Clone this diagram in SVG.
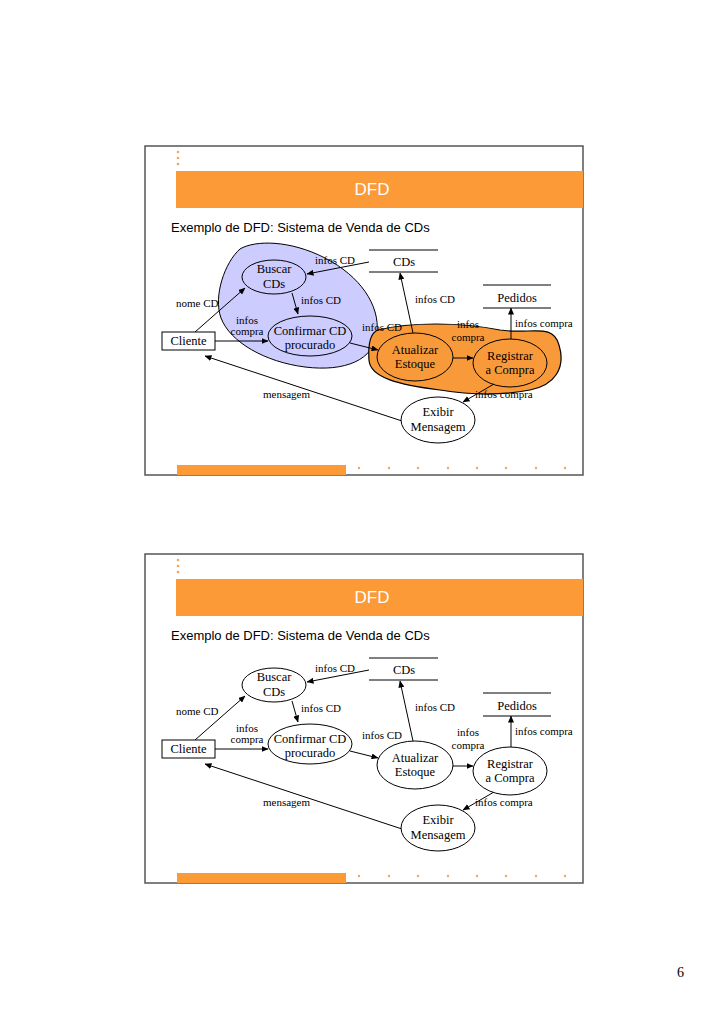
<svg xmlns="http://www.w3.org/2000/svg" width="728" height="1031" viewBox="0 0 728 1031">
<style>
.frame{fill:none;stroke:#555;stroke-width:1.5}
.bar{fill:#FB9A37}
.dot{fill:#F2A65A}
.title{font-family:"Liberation Sans",Arial,sans-serif;font-size:17px;fill:#fff;text-anchor:middle}
.sub{font-family:"Liberation Sans",Arial,sans-serif;font-size:13px;fill:#000}
.nt{font-family:"Liberation Serif","Times New Roman",serif;font-size:12.5px;fill:#000;text-anchor:middle}
.lb{font-family:"Liberation Serif","Times New Roman",serif;font-size:11px;fill:#000}
.lbm{font-family:"Liberation Serif","Times New Roman",serif;font-size:11px;fill:#000;text-anchor:middle}
.el{fill:none;stroke:#000;stroke-width:1}
.elw{fill:#fff;stroke:#000;stroke-width:1}
.st{stroke:#000;stroke-width:1}
.cn{stroke:#000;stroke-width:1;fill:none;marker-end:url(#ah)}
.blue{fill:#CCCCFF;stroke:#000;stroke-width:1}
.orange{fill:#F99A3A;stroke:#000;stroke-width:1.2}
.pg{font-family:"Liberation Serif","Times New Roman",serif;font-size:14px;fill:#000}
</style>
<defs>
<marker id="ah" markerWidth="7" markerHeight="6" refX="6.5" refY="3" orient="auto" markerUnits="userSpaceOnUse">
<path d="M0,0 L7,3 L0,6 Z" fill="#000"/>
</marker>
</defs>
<rect width="728" height="1031" fill="#fff"/>

<!-- Slide 1 -->
<g id="slide1">
<rect class="frame" x="145" y="146" width="438" height="329"/>
<rect class="bar" x="176" y="171" width="407" height="37"/>
<circle class="dot" cx="178" cy="152" r="1.3"/>
<circle class="dot" cx="178" cy="158" r="1.3"/>
<circle class="dot" cx="178" cy="164" r="1.3"/>
<text class="title" x="372" y="195">DFD</text>
<text class="sub" x="171" y="232">Exemplo de DFD: Sistema de Venda de CDs</text>
<rect class="bar" x="177" y="465" width="169" height="10"/>
<circle class="dot" cx="359" cy="468" r="1.2"/>
<circle class="dot" cx="389" cy="468" r="1.2"/>
<circle class="dot" cx="418" cy="468" r="1.2"/>
<circle class="dot" cx="448" cy="468" r="1.2"/>
<circle class="dot" cx="477" cy="468" r="1.2"/>
<circle class="dot" cx="506" cy="468" r="1.2"/>
<circle class="dot" cx="536" cy="468" r="1.2"/>
<circle class="dot" cx="565" cy="468" r="1.2"/>
</g>

<g id="s1-blobs">
<path class="blue" d="M240,249 C255,240 290,240 325,258 C360,276 380,305 377,333 C374,360 345,372 305,367 C265,362 230,342 221,318 C213,296 225,262 240,249 Z"/>
<path class="orange" d="M378,330 C410,322 460,322 500,330 C530,335 553,322 559,345 C566,368 555,385 530,390 C500,396 470,395 440,390 C400,385 370,378 369,360 C368,345 370,333 378,330 Z"/>
</g>

<g id="s1-connectors">
<line class="cn" x1="369" y1="262" x2="307" y2="274"/>
<line class="cn" x1="292" y1="293" x2="298" y2="314"/>
<line class="cn" x1="195" y1="332" x2="245" y2="288"/>
<line class="cn" x1="215" y1="341" x2="268" y2="341"/>
<line class="cn" x1="350" y1="343" x2="378" y2="350"/>
<line class="cn" x1="413" y1="333" x2="400" y2="273"/>
<line class="cn" x1="453" y1="358" x2="473" y2="358"/>
<line class="cn" x1="511" y1="339" x2="511" y2="308"/>
<line class="cn" x1="494" y1="384" x2="463" y2="402"/>
<line class="cn" x1="402" y1="421" x2="205" y2="356"/>
<text class="lb" x="315" y="264">infos CD</text>
<text class="lb" x="301" y="304">infos CD</text>
<text class="lb" x="176" y="307">nome CD</text>
<text class="lbm" x="247" y="324">infos</text>
<text class="lbm" x="247" y="335">compra</text>
<text class="lb" x="362" y="331">infos CD</text>
<text class="lb" x="415" y="303">infos CD</text>
<text class="lbm" x="468" y="328">infos</text>
<text class="lbm" x="468" y="341">compra</text>
<text class="lb" x="515" y="327">infos compra</text>
<text class="lb" x="475" y="398">infos compra</text>
<text class="lb" x="263" y="398">mensagem</text>
</g>

<g id="s1-buscar"><ellipse class="el" cx="274" cy="277" rx="32" ry="17"/><text class="nt" x="274" y="273">Buscar</text><text class="nt" x="274" y="288">CDs</text></g>
<g id="s1-confirmar"><ellipse class="el" cx="310" cy="336" rx="42" ry="20"/><text class="nt" x="310" y="335">Confirmar CD</text><text class="nt" x="310" y="349">procurado</text></g>
<g id="s1-cliente"><rect class="elw" x="162" y="332" width="53" height="18"/><text class="nt" x="188.5" y="345">Cliente</text></g>
<g id="s1-cds"><line class="st" x1="369" y1="250" x2="438" y2="250"/><line class="st" x1="369" y1="272" x2="438" y2="272"/><text class="nt" x="404" y="266">CDs</text></g>
<g id="s1-pedidos"><line class="st" x1="483" y1="285" x2="551" y2="285"/><line class="st" x1="483" y1="308" x2="551" y2="308"/><text class="nt" x="517" y="302">Pedidos</text></g>
<g id="s1-atualizar"><ellipse class="el" cx="415" cy="357" rx="38" ry="24"/><text class="nt" x="415" y="354">Atualizar</text><text class="nt" x="415" y="368">Estoque</text></g>
<g id="s1-registrar"><ellipse class="el" cx="510" cy="363" rx="37" ry="24"/><text class="nt" x="510" y="360">Registrar</text><text class="nt" x="510" y="374">a Compra</text></g>
<g id="s1-exibir"><ellipse class="elw" cx="438" cy="420" rx="37" ry="23"/><text class="nt" x="438" y="416">Exibir</text><text class="nt" x="438" y="431">Mensagem</text></g>

<!-- Slide 2 -->
<g id="slide2">
<rect class="frame" x="145" y="554" width="438" height="329"/>
<rect class="bar" x="176" y="579" width="407" height="37"/>
<circle class="dot" cx="178" cy="560" r="1.3"/>
<circle class="dot" cx="178" cy="566" r="1.3"/>
<circle class="dot" cx="178" cy="572" r="1.3"/>
<text class="title" x="372" y="603">DFD</text>
<text class="sub" x="171" y="640">Exemplo de DFD: Sistema de Venda de CDs</text>
<rect class="bar" x="177" y="873" width="169" height="10"/>
<circle class="dot" cx="359" cy="876" r="1.2"/>
<circle class="dot" cx="389" cy="876" r="1.2"/>
<circle class="dot" cx="418" cy="876" r="1.2"/>
<circle class="dot" cx="448" cy="876" r="1.2"/>
<circle class="dot" cx="477" cy="876" r="1.2"/>
<circle class="dot" cx="506" cy="876" r="1.2"/>
<circle class="dot" cx="536" cy="876" r="1.2"/>
<circle class="dot" cx="565" cy="876" r="1.2"/>
</g>

<g id="s2-connectors">
<line class="cn" x1="369" y1="670" x2="307" y2="682"/>
<line class="cn" x1="292" y1="701" x2="298" y2="722"/>
<line class="cn" x1="195" y1="740" x2="245" y2="696"/>
<line class="cn" x1="215" y1="749" x2="268" y2="749"/>
<line class="cn" x1="350" y1="751" x2="378" y2="758"/>
<line class="cn" x1="413" y1="741" x2="400" y2="681"/>
<line class="cn" x1="453" y1="766" x2="473" y2="766"/>
<line class="cn" x1="511" y1="747" x2="511" y2="716"/>
<line class="cn" x1="494" y1="792" x2="463" y2="810"/>
<line class="cn" x1="402" y1="829" x2="205" y2="764"/>
<text class="lb" x="315" y="672">infos CD</text>
<text class="lb" x="301" y="712">infos CD</text>
<text class="lb" x="176" y="715">nome CD</text>
<text class="lbm" x="247" y="732">infos</text>
<text class="lbm" x="247" y="743">compra</text>
<text class="lb" x="362" y="739">infos CD</text>
<text class="lb" x="415" y="711">infos CD</text>
<text class="lbm" x="468" y="736">infos</text>
<text class="lbm" x="468" y="749">compra</text>
<text class="lb" x="515" y="735">infos compra</text>
<text class="lb" x="475" y="806">infos compra</text>
<text class="lb" x="263" y="806">mensagem</text>
</g>

<g id="s2-buscar"><ellipse class="elw" cx="274" cy="685" rx="32" ry="17"/><text class="nt" x="274" y="681">Buscar</text><text class="nt" x="274" y="696">CDs</text></g>
<g id="s2-confirmar"><ellipse class="elw" cx="310" cy="744" rx="42" ry="20"/><text class="nt" x="310" y="743">Confirmar CD</text><text class="nt" x="310" y="757">procurado</text></g>
<g id="s2-cliente"><rect class="elw" x="162" y="740" width="53" height="18"/><text class="nt" x="188.5" y="753">Cliente</text></g>
<g id="s2-cds"><line class="st" x1="369" y1="658" x2="438" y2="658"/><line class="st" x1="369" y1="680" x2="438" y2="680"/><text class="nt" x="404" y="674">CDs</text></g>
<g id="s2-pedidos"><line class="st" x1="483" y1="693" x2="551" y2="693"/><line class="st" x1="483" y1="716" x2="551" y2="716"/><text class="nt" x="517" y="710">Pedidos</text></g>
<g id="s2-atualizar"><ellipse class="elw" cx="415" cy="765" rx="38" ry="24"/><text class="nt" x="415" y="762">Atualizar</text><text class="nt" x="415" y="776">Estoque</text></g>
<g id="s2-registrar"><ellipse class="elw" cx="510" cy="771" rx="37" ry="24"/><text class="nt" x="510" y="768">Registrar</text><text class="nt" x="510" y="782">a Compra</text></g>
<g id="s2-exibir"><ellipse class="elw" cx="438" cy="828" rx="37" ry="23"/><text class="nt" x="438" y="824">Exibir</text><text class="nt" x="438" y="839">Mensagem</text></g>

<text class="pg" x="677" y="977">6</text>
</svg>
